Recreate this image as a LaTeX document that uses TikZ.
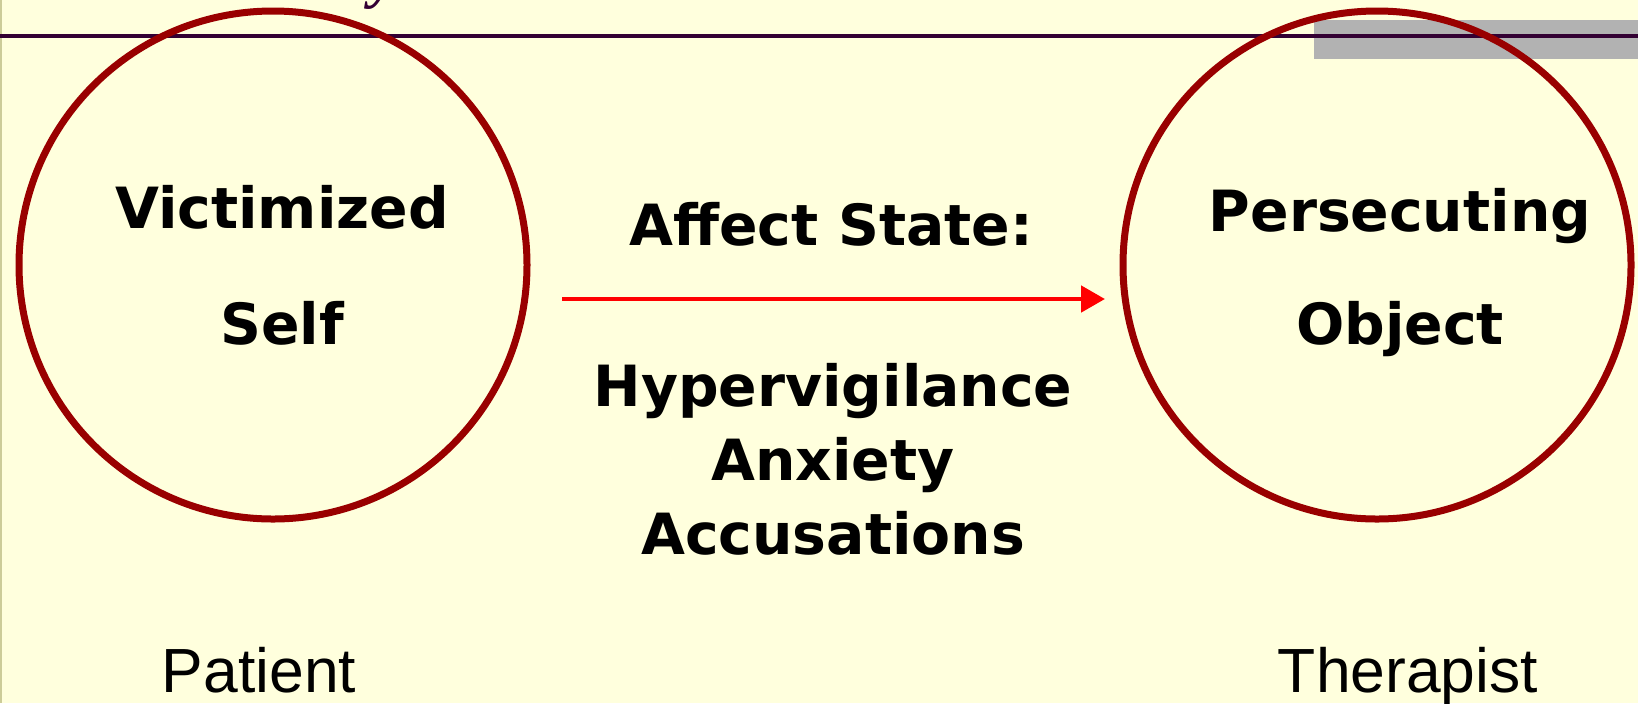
\documentclass[tikz,border=0pt]{standalone}
\usepackage{fontspec}
\setmainfont{Liberation Sans}
\newfontfamily\dvb{DejaVu Sans}[BoldFont={DejaVu Sans Bold}]
\newfontfamily\titlefont{Liberation Serif}
\usetikzlibrary{arrows.meta}
\definecolor{bgyellow}{RGB}{255,255,221}
\definecolor{edgebar}{RGB}{204,204,153}
\definecolor{rulepurple}{RGB}{51,0,51}
\definecolor{circred}{RGB}{153,0,0}
\definecolor{graybar}{RGB}{178,178,178}
\tikzset{
  ring/.style={draw=circred, line width=3.5pt, circle, minimum size=254pt, inner sep=0pt},
  boldlabel/.style={font=\dvb\bfseries\fontsize{28.4}{33}\selectfont, anchor=base, inner sep=0pt},
  plainlabel/.style={font=\fontsize{31.2}{36}\selectfont, anchor=base, inner sep=0pt},
  flow/.style={draw=red, line width=2.4pt, -{Triangle[length=12pt,width=13pt]}}
}
\begin{document}
\begin{tikzpicture}[x=0.5pt,y=-0.5pt]
\useasboundingbox (0,0) rectangle (1638,703);
\fill[bgyellow] (0,0) rectangle (1638,703);
\fill[edgebar] (0,0) rectangle (2,703);
\begin{scope}
\clip (0,0) rectangle (1638,703);
\node[anchor=base, inner sep=0pt, text=rulepurple, font=\titlefont\bfseries\itshape\fontsize{30}{34}\selectfont] (ttl) at (384,-4) {y};
\end{scope}
\fill[graybar] (1314,20) rectangle (1638,59);
\draw[rulepurple, line width=1.6pt] (0,36) -- (1638,36);
\node[ring] (self) at (273,265) {};
\node[ring] (obj) at (1377,265) {};
\coordinate (a1) at (562,299);
\coordinate (a2) at (1105,299);
\draw[flow] (a1) -- (a2);
\node[boldlabel] (v1) at (282,228) {Victimized};
\node[boldlabel] (v2) at (282,344) {Self};
\node[boldlabel] (m1) at (831,245) {Affect State:};
\node[boldlabel] (m2) at (833,406) {Hypervigilance};
\node[boldlabel] (m3) at (833,480) {Anxiety};
\node[boldlabel] (m4) at (833,554) {Accusations};
\node[boldlabel] (p1) at (1400,231) {Persecuting};
\node[boldlabel] (p2) at (1400,344) {Object};
\node[plainlabel] (pt) at (259,692) {Patient};
\node[plainlabel] (th) at (1408,692) {Therapist};
\end{tikzpicture}
\end{document}
